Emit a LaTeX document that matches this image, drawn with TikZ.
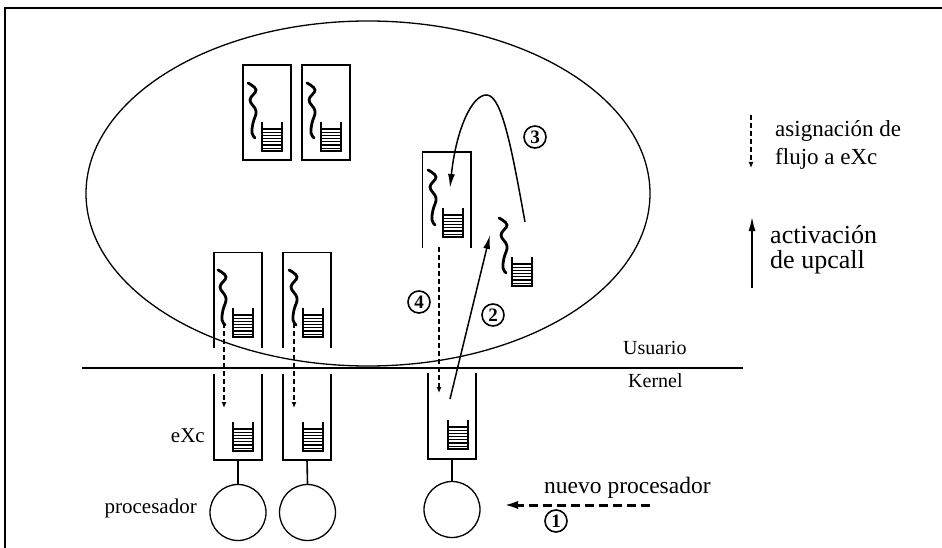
\documentclass[tikz,border=0pt]{standalone}
\usepackage{fontspec}
\setmainfont{Liberation Serif}
\usetikzlibrary{arrows.meta,shapes.geometric}

\tikzset{
  thread/.pic={\draw[line width=2.8pt, line cap=round]
    plot[smooth, tension=0.7] coordinates {(0,0) (8,7) (2,17) (8,28) (5,40) (4,50) (7,55)};},
  queue/.pic={\draw[line width=1.2pt] (0,0) -- (0,29) -- (20,29) -- (20,0);
    \foreach \k in {0,...,6} \draw[line width=1.1pt] (0,{7+\k*3.2}) -- (20,{7+\k*3.2});},
  frame/.style={rectangle, inner sep=0pt, minimum width=48pt},
  upbox/.style={frame, minimum height=95pt},
  kbox/.style={frame, minimum height=85pt},
  boxline/.style={line width=1.6pt},
  cpu/.style={circle, draw, line width=1.3pt, minimum size=56pt, inner sep=0pt},
  upcall/.style={line width=1.5pt, -{Latex[length=14pt,width=7pt]}},
  assign/.style={line width=1.2pt, dash pattern=on 5pt off 3pt, -{Latex[length=6pt,width=5pt]}},
  newcpu/.style={line width=3pt, dash pattern=on 9pt off 5pt, -{Latex[length=15pt,width=8pt]}},
  step num/.style={circle, draw, line width=1.6pt, minimum size=22pt, inner sep=0pt,
    font=\fontsize{19}{19}\selectfont\bfseries},
  lbl/.style={inner sep=0pt, anchor=base west},
}

\begin{document}
\begin{tikzpicture}[x=1pt,y=-1pt]
\useasboundingbox (0,0) rectangle (942,548);

% page frame (top and left edges)
\draw[line width=1.2pt] (4,8) -- (942,8);
\draw[line width=1.2pt] (5,8) -- (5,548);

% user address space
\draw[line width=1.3pt] (368,193.5) ellipse [x radius=282, y radius=172.5];

% user / kernel boundary
\coordinate (bl) at (82,368);
\coordinate (br) at (743,368);
\draw[line width=1.6pt] (bl) -- (br);
\node[lbl, font=\fontsize{20}{20}\selectfont] (usr) at (623,354) {Usuario};
\node[lbl, font=\fontsize{20}{20}\selectfont] (krn) at (628,387) {Kernel};

% idle execution contexts in user space
\node[upbox, draw, boxline] (ub1) at (267,112.5) {};
\node[upbox, draw, boxline] (ub2) at (326,112.5) {};
\pic at (248,83) {thread};
\pic at (262,122) {queue};
\pic at (307,83) {thread};
\pic at (321,122) {queue};

% context receiving the thread
\node[upbox] (mb) at (446.5,200) {};
\draw[boxline] (mb.south west) |- (mb.north east) -- (mb.south east);
\pic at (428,170) {thread};
\pic at (443,208) {queue};

% thread that was running
\pic at (499,218) {thread};
\pic at (512,257) {queue};

% user halves of the running contexts
\node[upbox] (ua) at (238,300) {};
\node[upbox] (ubb) at (307,300) {};
\draw[boxline] (ua.south west) |- (ua.north east) -- (ua.south east);
\draw[boxline] (ubb.south west) |- (ubb.north east) -- (ubb.south east);
\pic at (218,270) {thread};
\pic at (233,308) {queue};
\pic at (289,270) {thread};
\pic at (303,308) {queue};

% kernel halves of the execution contexts
\node[kbox] (ka) at (238,417) {};
\node[kbox] (kb) at (307,417) {};
\node[kbox] (kc) at (452,416) {};
\foreach \b in {ka,kb,kc}
  \draw[boxline] (\b.north west) |- (\b.south east) -- (\b.north east);
\pic at (233,422) {queue};
\pic at (303,422) {queue};
\pic at (448,420) {queue};
\node[lbl, font=\fontsize{21}{21}\selectfont, anchor=base east] (exc) at (205,442) {eXc};

% processors
\node[cpu] (pa) at (238,512.5) {};
\node[cpu] (pb) at (307.5,512.5) {};
\node[cpu] (pc) at (452,509.5) {};
\draw[boxline] (ka.south) -- (pa.north);
\draw[boxline] (kb.south) -- (pb.north);
\draw[boxline] (kc.south) -- (pc.north);
\node[lbl, font=\fontsize{21}{21}\selectfont, anchor=base east] (proc) at (197,513) {procesador};

% thread-to-context assignments
\coordinate (da1) at (224,323);
\coordinate (da2) at (224,408);
\coordinate (db1) at (294,323);
\coordinate (db2) at (294,408);
\coordinate (dc1) at (439,247);
\coordinate (dc2) at (439,393);
\draw[assign] (da1) -- (da2);
\draw[assign] (db1) -- (db2);
\draw[assign] (dc1) -- (dc2);

% new processor arrives
\coordinate (n1) at (650,505);
\coordinate (n2) at (503,505);
\draw[newcpu] (n1) -- (n2);
\node[lbl, font=\fontsize{23.5}{23.5}\selectfont] (newp) at (544,493) {nuevo procesador};

% upcall activation and hand-over
\coordinate (u1) at (450,399);
\coordinate (u2) at (490,235);
\draw[upcall] (u1) -- (u2);
\coordinate (h1) at (525,222);
\coordinate (h2) at (487,95);
\coordinate (h3) at (450,188);
\draw[upcall] (h1) .. controls (512,150) and (502,96) .. (h2)
  .. controls (472,94) and (456,130) .. (h3);

% step numbers
\node[step num] (s1) at (556,521) {1};
\node[step num] (s2) at (493,315) {2};
\node[step num] (s3) at (535,137) {3};
\node[step num] (s4) at (419,302) {4};

% legend
\coordinate (la1) at (751,115);
\coordinate (la2) at (751,168);
\draw[assign] (la1) -- (la2);
\node[lbl, font=\fontsize{23}{23}\selectfont] (lg1) at (775,137) {asignación de};
\node[lbl, font=\fontsize{23}{23}\selectfont] (lg2) at (775,165) {flujo a eXc};
\coordinate (lb1) at (752,288);
\coordinate (lb2) at (752,217);
\draw[upcall] (lb1) -- (lb2);
\node[lbl, font=\fontsize{26}{26}\selectfont] (lg3) at (770,243) {activación};
\node[lbl, font=\fontsize{26}{26}\selectfont] (lg4) at (770,268) {de upcall};
\end{tikzpicture}
\end{document}
